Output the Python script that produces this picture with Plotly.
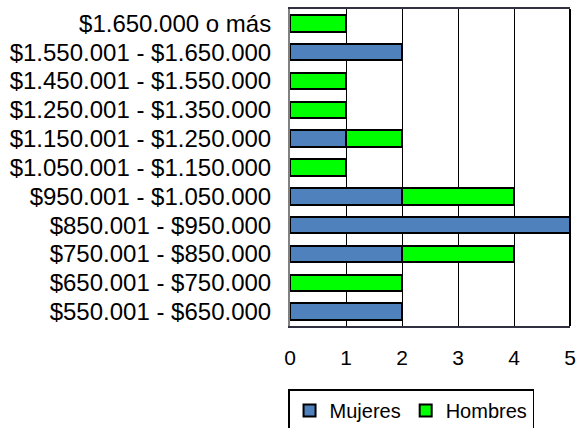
import plotly.graph_objects as go

categories = [
    "$550.001 - $650.000",
    "$650.001 - $750.000",
    "$750.001 - $850.000",
    "$850.001 - $950.000",
    "$950.001 - $1.050.000",
    "$1.050.001 - $1.150.000",
    "$1.150.001 - $1.250.000",
    "$1.250.001 - $1.350.000",
    "$1.450.001 - $1.550.000",
    "$1.550.001 - $1.650.000",
    "$1.650.000 o más",
]
mujeres = [2, 0, 2, 5, 2, 0, 1, 0, 0, 2, 0]
hombres = [0, 2, 2, 0, 2, 1, 1, 1, 1, 0, 1]
x_ticks = [0, 1, 2, 3, 4, 5]

FONT = "Liberation Sans, Arial, sans-serif"

fig = go.Figure()
fig.add_trace(go.Bar(
    y=categories, x=mujeres, orientation="h", name="Mujeres",
    marker=dict(color="#4F81BD", line=dict(color="black", width=2)),
))
fig.add_trace(go.Bar(
    y=categories, x=hombres, orientation="h", name="Hombres",
    marker=dict(color="#00FF00", line=dict(color="black", width=2)),
))

fig.update_layout(
    barmode="stack",
    bargap=0.43,
    width=578, height=428,
    margin=dict(l=290, r=8, t=9, b=102, autoexpand=False),
    paper_bgcolor="white", plot_bgcolor="white",
    font=dict(family=FONT, color="black"),
    showlegend=True,
    legend=dict(
        orientation="h", x=-0.007, xanchor="left", y=-0.2, yanchor="top",
        bordercolor="black", borderwidth=1.5,
        font=dict(size=20, family=FONT, color="black"),
        traceorder="normal", itemwidth=30,
    ),
    xaxis=dict(
        range=[0, 5], tickvals=x_ticks, ticktext=[str(v) for v in x_ticks],
        showgrid=True, gridcolor="black", gridwidth=1,
        showline=True, linecolor="#303040", linewidth=1.5, mirror=True,
        zeroline=False, ticks="", ticklabelstandoff=12, automargin=False,
        tickfont=dict(size=21, family=FONT, color="black"),
        fixedrange=True,
    ),
    yaxis=dict(
        categoryorder="array", categoryarray=categories,
        tickmode="array", tickvals=categories, ticktext=categories,
        showgrid=False, showline=True, linecolor="#808080", linewidth=2,
        ticks="", ticklabelstandoff=12, automargin=False,
        tickfont=dict(size=24, family=FONT, color="black"),
        fixedrange=True,
    ),
    shapes=[dict(type="line", xref="paper", yref="paper", x0=1, x1=1, y0=0, y1=1,
                 line=dict(color="black", width=2))],
)

fig.write_html(
    "out.html",
    config={"displayModeBar": False},
    post_script="document.body.style.margin='0';document.body.style.padding='0';",
)
